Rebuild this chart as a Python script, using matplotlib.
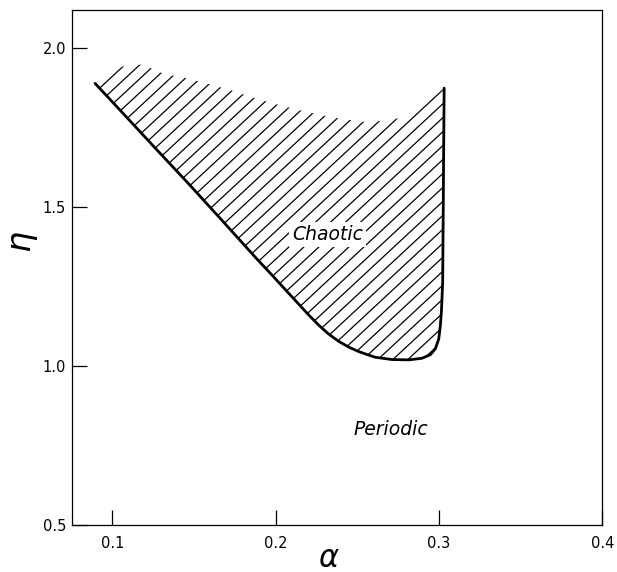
# Chaotic / periodic regions in the (alpha, eta) plane
import numpy as np
import matplotlib.pyplot as plt
from matplotlib.patches import Polygon
from matplotlib.collections import LineCollection

# lower boundary of the chaotic region (drawn as a solid curve)
alpha_low = [0.0894, 0.1061, 0.1265, 0.1469, 0.1673, 0.1877, 0.1979,
             0.2061, 0.2142, 0.2203, 0.2264, 0.2325, 0.2387, 0.2448, 0.2509,
             0.2570, 0.2611, 0.2713, 0.2815, 0.2896, 0.2947, 0.2978, 0.2999,
             0.3009, 0.3015, 0.3018, 0.3023, 0.3026, 0.3029, 0.3032]
eta_low = [1.890, 1.798, 1.685, 1.573, 1.458, 1.342, 1.286,
           1.240, 1.195, 1.161, 1.129, 1.101, 1.078, 1.060, 1.046,
           1.035, 1.028, 1.021, 1.020, 1.025, 1.036, 1.055, 1.086,
           1.129, 1.171, 1.203, 1.266, 1.462, 1.677, 1.875]

# upper edge of the hatched area (right to left)
alpha_up = [0.3032, 0.2794, 0.2570, 0.2346, 0.2142, 0.1999, 0.1856, 0.1734,
            0.1591, 0.1459, 0.1316, 0.1183, 0.1102, 0.0969, 0.0894]
eta_up = [1.875, 1.783, 1.767, 1.783, 1.806, 1.825, 1.846, 1.867,
          1.888, 1.906, 1.920, 1.949, 1.949, 1.928, 1.890]

xticks = [0.1, 0.2, 0.3, 0.4]
yticks = [0.5, 1.0, 1.5, 2.0]

plt.rcParams['font.family'] = 'DejaVu Sans'

fig = plt.figure(figsize=(6.17, 5.72), dpi=100)
ax = fig.add_axes([0.116, 0.082, 0.86, 0.9])
ax.set_xlim(0.075, 0.4)
ax.set_ylim(0.5, 2.12)

# region outline used to clip the hatching
region = Polygon(np.column_stack([alpha_low + alpha_up[1:], eta_low + eta_up[1:]]),
                 closed=True, facecolor='none', edgecolor='none')
ax.add_patch(region)

# diagonal hatch lines, built in axes coordinates so the angle is fixed on screen
fig.canvas.draw()
bb = ax.get_window_extent()
W, H = bb.width, bb.height
slope = 0.93 * W / H
step = 15.0 / W
segs = []
for c in np.arange(-1.2, 1.0, step):
    segs.append([(c, 0.0), (c + 1.0 / slope, 1.0)])
hatch = LineCollection(segs, colors='black', linewidths=0.9, transform=ax.transAxes)
hatch.set_clip_path(region)
ax.add_collection(hatch)

ax.plot(alpha_low, eta_low, color='black', lw=2.0, solid_capstyle='round',
        solid_joinstyle='round')

ax.text(0.2317, 1.415, 'Chaotic', style='italic', fontsize=13.5, ha='center', va='center',
        bbox=dict(facecolor='white', edgecolor='none', pad=2))
ax.text(0.2705, 0.80, 'Periodic', style='italic', fontsize=13.5, ha='center', va='center')

ax.set_xticks(xticks)
ax.set_yticks(yticks)
ax.set_xticklabels(['0.1', '0.2', '0.3', '0.4'])
ax.set_yticklabels(['0.5', '1.0', '1.5', '2.0'])
ax.tick_params(direction='in', length=11, width=0.9, labelsize=10.5)
ax.tick_params(axis='x', pad=8)
ax.tick_params(axis='y', pad=4)
for s in ax.spines.values():
    s.set_linewidth(0.9)

ax.set_xlabel(r'$\alpha$', fontsize=22, va='center')
ax.set_ylabel(r'$\eta$', fontsize=24, va='center')
ax.xaxis.set_label_coords(0.484, -0.064)
ax.yaxis.set_label_coords(-0.09, 0.55)

plt.savefig('out.png', dpi=100)
